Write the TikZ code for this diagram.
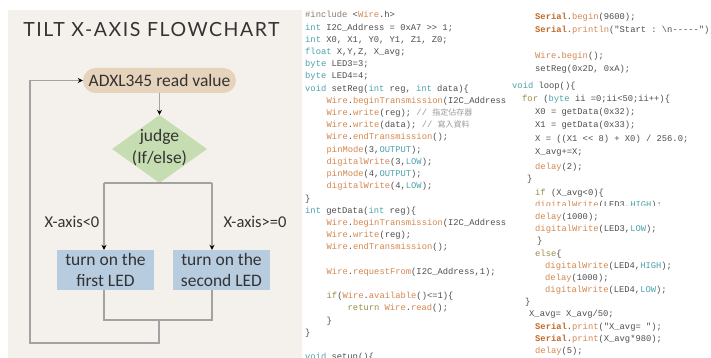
\documentclass[tikz,border=0pt]{standalone}
\usepackage{fontspec}
\usetikzlibrary{arrows.meta,shapes.geometric}
\setmonofont{Liberation Mono}
\newfontfamily\flowfont{Carlito}
\newfontfamily\titlefont{Lato}[LetterSpace=8]
\newfontfamily\cjk{Noto Sans CJK TC}

\definecolor{panel}{HTML}{F4F1EC}
\definecolor{pill}{HTML}{E6D3BC}
\definecolor{leaf}{HTML}{C6DDB2}
\definecolor{steel}{HTML}{B8CCE0}
\definecolor{wire}{HTML}{A2A2A2}
\definecolor{ink}{HTML}{333333}
\definecolor{tx}{HTML}{4E4E4E}
\definecolor{kw}{HTML}{4BA2AC}
\definecolor{fn}{HTML}{D4874F}
\definecolor{sr}{HTML}{C26A2C}
\definecolor{ol}{HTML}{9A8C48}
\definecolor{cm}{HTML}{9A9A9A}
\definecolor{pp}{HTML}{8C7B6B}

\newcommand{\kwd}[1]{\textcolor{kw}{#1}}
\newcommand{\fnc}[1]{\textcolor{fn}{#1}}
\newcommand{\srl}[1]{\textcolor{sr}{\bfseries #1}}
\newcommand{\olv}[1]{\textcolor{ol}{#1}}
\newcommand{\cmt}[1]{\textcolor{cm}{#1}}
\newcommand{\codesize}{\fontsize{8.8pt}{10pt}\selectfont}

\tikzset{
  codeline/.style={anchor=base west, inner sep=0pt, font=\codesize\ttfamily, text=tx},
  flowtext/.style={font=\flowfont\fontsize{17.5pt}{21pt}\selectfont, text=ink, align=center, inner sep=0pt},
  flowline/.style={draw=wire, line width=1.2pt},
  arr/.style={flowline, -{Stealth[length=5pt,width=5pt,color=black]}},
  ledbox/.style={rectangle, fill=steel, minimum width=97pt, minimum height=40pt, flowtext}
}

\begin{document}
\begin{tikzpicture}[x=1pt, y=-1pt]
\useasboundingbox (0,0) rectangle (711,358);
\clip (0,0) rectangle (711,358);
\fill[white] (0,0) rectangle (711,358);
\fill[panel] (8,10) rectangle (302,358);

% ---------- flowchart ----------
\node[anchor=base, inner sep=0pt, text=ink, font=\titlefont\fontsize{19.5pt}{22pt}\selectfont]
  (title) at (151.5,37) {TILT X-AXIS FLOWCHART};

\node[rectangle, rounded corners=12.5pt, fill=pill, minimum width=153pt, minimum height=25pt, flowtext]
  (read) at (159.5,80.5) {ADXL345 read value};

\node[diamond, fill=leaf, minimum width=95pt, minimum height=68pt, inner sep=0pt]
  (judge) at (159.5,149) {};
\node[flowtext, font=\flowfont\fontsize{17.5pt}{22pt}\selectfont] (judgetxt) at (159.5,148) {judge\\(If/else)};

\node[ledbox] (led1) at (105.5,270) {turn on the\\first LED};
\node[ledbox] (led2) at (221.5,270) {turn on the\\second LED};

\node[flowtext, font=\flowfont\fontsize{16.5pt}{20pt}\selectfont] (neg) at (72,222) {X-axis<0};
\node[flowtext, font=\flowfont\fontsize{16.5pt}{20pt}\selectfont] (pos) at (255,222) {X-axis>=0};

\coordinate (bl) at (104,183);
\coordinate (br) at (212,183);
\coordinate (jl) at (104,320);
\coordinate (jr) at (212,320);
\coordinate (jm) at (159,320);
\coordinate (back) at (159,343);
\coordinate (loopx) at (30,343);

\draw[arr] (read.south) -- (judge.north);
\draw[flowline] (bl) -- (br);
\draw[arr] (bl) -- (bl |- led1.north);
\draw[arr] (br) -- (br |- led2.north);
\draw[flowline] (bl |- led1.south) -- (jl) -- (jr) -- (br |- led2.south);
\draw[arr] (jm) -- (back) -- (loopx) |- (read.west);

% ---------- code, left column ----------
\node[codeline] (c1)  at (305,18)    {\textcolor{pp}{\#include} <\fnc{Wire}.h>};
\node[codeline] (c2)  at (305,30.2)  {\kwd{int} I2C\_Address = 0xA7 >> 1;};
\node[codeline] (c3)  at (305,42.4)  {\kwd{int} X0, X1, Y0, Y1, Z1, Z0;};
\node[codeline] (c4)  at (305,54.6)  {\kwd{float} X,Y,Z, X\_avg;};
\node[codeline] (c5)  at (305,66.8)  {\kwd{byte} LED3=3;};
\node[codeline] (c6)  at (305,79)    {\kwd{byte} LED4=4;};
\node[codeline] (c7)  at (305,91.2)  {\kwd{void} setReg(\kwd{int} reg, \kwd{int} data)\{};
\node[codeline] (c8)  at (326.5,103.4) {\fnc{Wire}.\fnc{beginTransmission}(I2C\_Address};
\node[codeline] (c9)  at (326.5,115.6) {\fnc{Wire}.\fnc{write}(reg); \cmt{// {\cjk\fontsize{8pt}{10pt}\selectfont 指定佔存器}}};
\node[codeline] (c10) at (326.5,127.8) {\fnc{Wire}.\fnc{write}(data); \cmt{// {\cjk\fontsize{8pt}{10pt}\selectfont 寫入資料}}};
\node[codeline] (c11) at (326.5,140)   {\fnc{Wire}.\fnc{endTransmission}();};
\node[codeline] (c12) at (326.5,152.2) {\fnc{pinMode}(3,\kwd{OUTPUT});};
\node[codeline] (c13) at (326.5,164.4) {\fnc{digitalWrite}(3,\kwd{LOW});};
\node[codeline] (c14) at (326.5,176.6) {\fnc{pinMode}(4,\kwd{OUTPUT});};
\node[codeline] (c15) at (326.5,188.8) {\fnc{digitalWrite}(4,\kwd{LOW});};
\node[codeline] (c16) at (305,201)     {\}};
\node[codeline] (c17) at (305,213.2)   {\kwd{int} getData(\kwd{int} reg)\{};
\node[codeline] (c18) at (326.5,225.4) {\fnc{Wire}.\fnc{beginTransmission}(I2C\_Address};
\node[codeline] (c19) at (326.5,237.6) {\fnc{Wire}.\fnc{write}(reg);};
\node[codeline] (c20) at (326.5,249.8) {\fnc{Wire}.\fnc{endTransmission}();};
\node[codeline] (c22) at (326.5,274.2) {\fnc{Wire}.\fnc{requestFrom}(I2C\_Address,1);};
\node[codeline] (c24) at (326.5,298.6) {\olv{if}(\fnc{Wire}.\fnc{available}()<=1)\{};
\node[codeline] (c25) at (347.5,310.8) {\olv{return} \fnc{Wire}.\fnc{read}();};
\node[codeline] (c26) at (326.5,323)   {\}};
\node[codeline] (c27) at (305,335.2)   {\}};
\node[codeline] (c29) at (305,359.6)   {\kwd{void} setup()\{};

% ---------- code, right column ----------
\node[codeline] (r1)  at (535,20)  {\srl{Serial}.\fnc{begin}(9600);};
\node[codeline] (r2)  at (535,33)  {\srl{Serial}.\fnc{println}("Start : \textbackslash n-----");};
\node[codeline] (r3)  at (535,59)  {\fnc{Wire}.\fnc{begin}();};
\node[codeline] (r4)  at (535,72)  {setReg(0x2D, 0xA);};
\node[codeline] (r5)  at (512,89)  {\kwd{void} loop()\{};
\node[codeline] (r6)  at (522,102) {\olv{for} (\kwd{byte} ii =0;ii<50;ii++)\{};
\node[codeline] (r7)  at (535,115) {X0 = getData(0x32);};
\node[codeline] (r8)  at (535,128) {X1 = getData(0x33);};
\node[codeline] (r9)  at (535,142) {X = ((X1 << 8)  + X0) / 256.0;};
\node[codeline] (r10) at (535,155) {X\_avg+=X;};
\node[codeline] (r11) at (535,169) {\fnc{delay}(2);};
\node[codeline] (r12) at (527,182) {\}};
\node[codeline] (r13) at (535,195) {\olv{if} (X\_avg<0)\{};
\begin{scope}
  \clip (500,198) rectangle (711,205);
  \node[codeline] (r14) at (535,207) {\fnc{digitalWrite}(LED3,\kwd{HIGH});};
\end{scope}
\node[codeline] (r15) at (535,219) {\fnc{delay}(1000);};
\node[codeline] (r16) at (535,231) {\fnc{digitalWrite}(LED3,\kwd{LOW});};
\node[codeline] (r17) at (537,243) {\}};
\node[codeline] (r18) at (535,256) {\olv{else}\{};
\node[codeline] (r19) at (545,268) {\fnc{digitalWrite}(LED4,\kwd{HIGH});};
\node[codeline] (r20) at (545,280) {\fnc{delay}(1000);};
\node[codeline] (r21) at (545,292) {\fnc{digitalWrite}(LED4,\kwd{LOW});};
\node[codeline] (r22) at (525,304) {\}};
\node[codeline] (r23) at (529,316) {X\_avg= X\_avg/50;};
\node[codeline] (r24) at (535,329) {\srl{Serial}.\fnc{print}("X\_avg= ");};
\node[codeline] (r25) at (535,341) {\srl{Serial}.\fnc{print}(X\_avg*980);};
\node[codeline] (r26) at (535,353) {\fnc{delay}(5);};
\end{tikzpicture}
\end{document}
